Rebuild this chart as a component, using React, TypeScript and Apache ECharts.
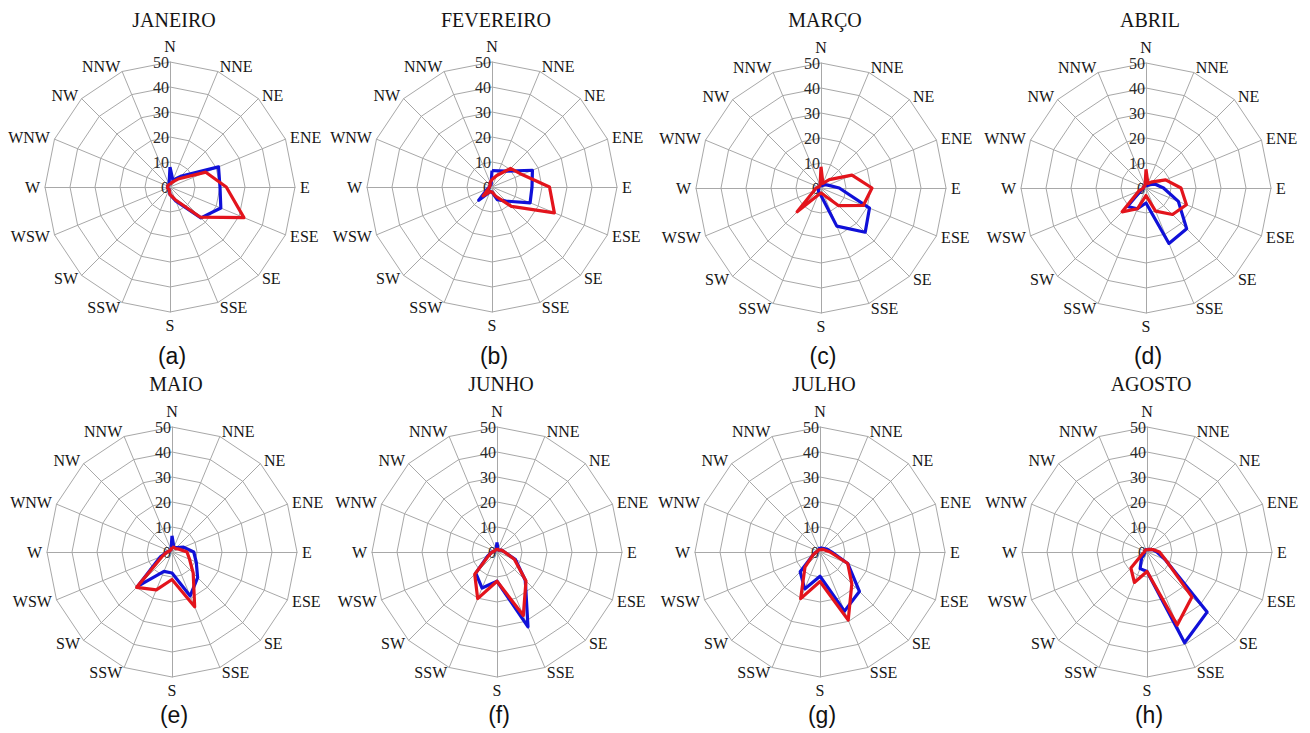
import React, { useEffect, useRef } from "react";
import * as echarts from "echarts";

// 16 wind directions, clockwise from North
const DIRECTIONS = ["N", "NNE", "NE", "ENE", "E", "ESE", "SE", "SSE", "S", "SSW", "SW", "WSW", "W", "WNW", "NW", "NNW"];
const MONTHS = ["JANEIRO", "FEVEREIRO", "MARÇO", "ABRIL", "MAIO", "JUNHO", "JULHO", "AGOSTO"];
const PANEL_TAGS = ["(a)", "(b)", "(c)", "(d)", "(e)", "(f)", "(g)", "(h)"];
const TICKS = [0, 10, 20, 30, 40, 50];

// values per direction (clockwise from N), blue and red series
const janBlue = [8, 3, 6, 21, 20, 22, 17.5, 6, 3, 1, 1, 1, 1, 1, 1, 1];
const janRed = [1, 2, 4.5, 15.5, 22.5, 32, 17, 5.5, 3, 1, 1, 1, 1, 1, 1, 1];
const fevBlue = [6.6, 7, 9, 17.5, 16, 16.5, 8, 5.5, 2, 2, 7.5, 2, 1, 1, 1, 1];
const fevRed = [3, 5, 10.5, 13, 23, 27, 11, 4, 2, 2, 5, 1.5, 1, 1, 1, 2];
const marBlue = [1, 1, 2, 3, 7.3, 21, 25, 16.5, 3, 2, 1.5, 1, 1, 1, 1, 1];
const marRed = [8.5, 2, 4.7, 13.4, 20.4, 18.3, 10, 3, 2, 3, 13.5, 3, 2, 1, 1, 1];
const abrBlue = [1, 1, 2, 4, 7, 14, 23, 24, 6, 9, 10.5, 2, 1, 1, 1, 1];
const abrRed = [7.5, 2, 3.5, 8.5, 14, 17.5, 15, 10, 3, 9, 13.5, 3, 1, 1, 1, 1];
const maiBlue = [6.5, 2, 2.5, 5, 8.7, 10.5, 14.5, 19, 8.4, 8.4, 19.5, 5, 2, 1, 1, 1];
const maiRed = [2, 2, 2, 3, 6, 7.6, 12, 23.7, 11, 16.4, 20, 4, 2, 1, 1, 1];
const junBlue = [3.8, 1, 1, 2, 3, 8, 16, 32.4, 11.7, 15.6, 12, 4, 2, 1, 1, 1];
const junRed = [1.5, 1, 1, 2, 3, 7.5, 16.4, 27.5, 11.7, 20.2, 12.6, 3.5, 2, 1, 1, 1];
const julBlue = [2, 1.5, 2, 3, 4.7, 12, 22.3, 25.6, 9.7, 16, 11.2, 3, 1.5, 1, 1, 1];
const julRed = [1, 1, 1.5, 2, 4, 12, 18, 29.5, 11.8, 20.2, 8.5, 3, 1.5, 1, 1, 1];
const agoBlue = [1, 1, 1.5, 2.5, 4, 7.8, 34, 39.3, 7.8, 7.2, 3, 1, 1, 1, 1, 1];
const agoRed = [1, 1, 1.5, 2.5, 5, 8, 25.4, 31.6, 7.8, 13.2, 9.1, 2, 1, 1, 1, 1];

const BLUE_SERIES = [janBlue, fevBlue, marBlue, abrBlue, maiBlue, junBlue, julBlue, agoBlue];
const RED_SERIES = [janRed, fevRed, marRed, abrRed, maiRed, junRed, julRed, agoRed];

// layout (px)
const CENTERS = [
  [170, 187], [492, 187], [821, 188], [1146, 188],
  [172, 552], [497, 552], [820, 552], [1147, 552],
];
const RADIUS = 125;
const TITLE_Y = [20, 384];
const TAG_Y = [356, 715];

const BLUE = "#1010d8";
const RED = "#e3141c";
const GRID = "#a8a8a8";
const SERIF = "'Liberation Serif', 'Times New Roman', serif";
const SANS = "'Liberation Sans', Arial, sans-serif";

// ECharts radar places indicators counter-clockwise; map clockwise data to that order
const ORDER = [0, ...Array.from({ length: 15 }, (_, i) => 15 - i)];

export default function App() {
  const ref = useRef<HTMLDivElement>(null);
  useEffect(() => {
    if (!ref.current) return;
    const chart = echarts.init(ref.current, undefined, { renderer: "svg" });
    const maxV = TICKS[TICKS.length - 1];
    const radar = CENTERS.map((c) => ({
      center: c,
      radius: RADIUS,
      startAngle: 90,
      shape: "polygon",
      splitNumber: TICKS.length - 1,
      nameGap: 5,
      axisName: { color: "#151515", fontFamily: SERIF, fontSize: 16 },
      splitLine: { lineStyle: { color: GRID, width: 1 } },
      splitArea: { show: false },
      axisLine: { lineStyle: { color: GRID, width: 1 } },
      axisTick: { show: false },
      axisLabel: { show: false },
      indicator: ORDER.map((i, j) => {
        const ind: any = { name: DIRECTIONS[i], min: TICKS[0], max: maxV };
        if (j === 0) {
          ind.axisLabel = {
            show: true,
            fontFamily: SERIF,
            fontSize: 16,
            color: "#2a2a2a",
            margin: 1,
            showMinLabel: true,
            showMaxLabel: true,
          };
        }
        return ind;
      }),
    }));
    const series = CENTERS.map((_, k) => ({
      type: "radar",
      radarIndex: k,
      symbol: "none",
      silent: true,
      data: [
        {
          name: "blue",
          value: ORDER.map((i) => BLUE_SERIES[k][i]),
          lineStyle: { color: BLUE, width: 3.2 },
          itemStyle: { color: BLUE },
        },
        {
          name: "red",
          value: ORDER.map((i) => RED_SERIES[k][i]),
          lineStyle: { color: RED, width: 3.2 },
          itemStyle: { color: RED },
        },
      ],
    }));
    const graphic: any[] = [];
    CENTERS.forEach((c, k) => {
      const row = k < 4 ? 0 : 1;
      graphic.push({
        type: "text",
        x: c[0] + 4,
        y: TITLE_Y[row],
        style: {
          text: MONTHS[k],
          font: `20px ${SERIF}`,
          fill: "#151515",
          textAlign: "center",
          textVerticalAlign: "middle",
          align: "center",
          verticalAlign: "middle",
        },
      });
      graphic.push({
        type: "text",
        x: c[0] + 2,
        y: TAG_Y[row],
        style: {
          text: PANEL_TAGS[k],
          font: `23px ${SANS}`,
          fill: "#111",
          textAlign: "center",
          textVerticalAlign: "middle",
          align: "center",
          verticalAlign: "middle",
        },
      });
    });
    chart.setOption({
      animation: false,
      backgroundColor: "#ffffff",
      radar,
      series,
      graphic,
    });
    return () => chart.dispose();
  }, []);
  return (
    <div
      ref={ref}
      style={{ position: "fixed", left: 0, top: 0, width: 1310, height: 733, background: "#fff" }}
    />
  );
}
